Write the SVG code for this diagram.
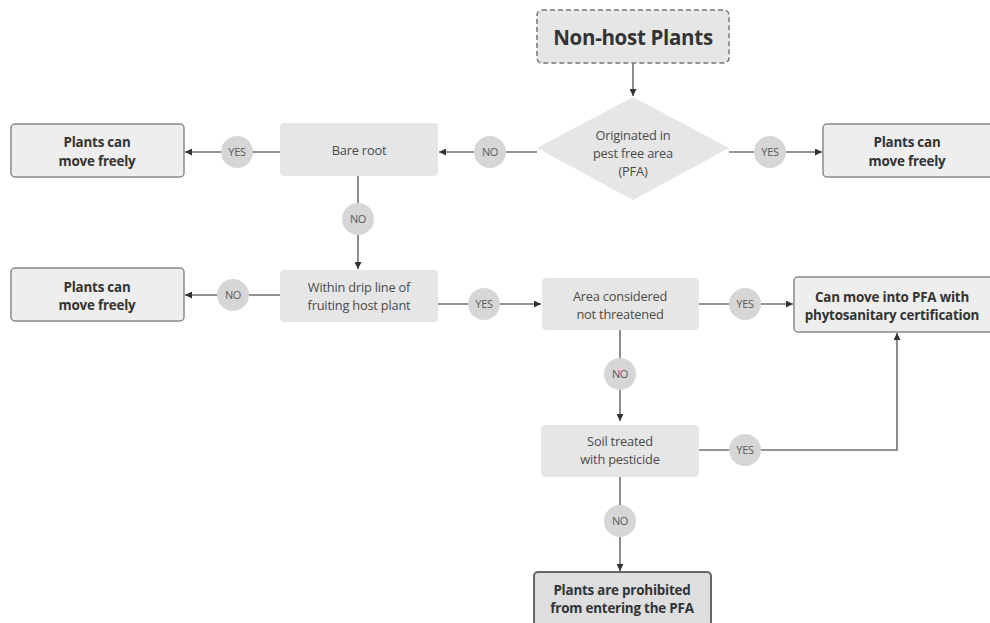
<svg xmlns="http://www.w3.org/2000/svg" width="990" height="623" viewBox="0 0 990 623">
<style>
text{font-family:"Open Sans","Liberation Sans",sans-serif;text-anchor:middle}
.q{fill:#e6e6e6}
.qt{font-size:12.8px;fill:#4a4a4a;letter-spacing:-0.2px}
.r{fill:#eeeeee;stroke:#8a8a8a;stroke-width:1.5}
.rt{font-size:13.4px;font-weight:bold;fill:#333;letter-spacing:-0.2px}
.ln{fill:none;stroke:#707070;stroke-width:1.6}
.lb circle{fill:#d6d6d6}
.lb text{font-size:11px;fill:#5a5a5a;letter-spacing:-0.3px}
</style>
<defs>
<marker id="ah" viewBox="0 0 10 10" refX="10" refY="5" markerWidth="7" markerHeight="7" markerUnits="userSpaceOnUse" orient="auto">
<path d="M0,0 L10,5 L0,10 z" fill="#333"/>
</marker>
</defs>
<g id="connectors">
<path class="ln" d="M633,63 V96" marker-end="url(#ah)"/>
<path class="ln" d="M537,152 H439" marker-end="url(#ah)"/>
<path class="ln" d="M729,152 H822" marker-end="url(#ah)"/>
<path class="ln" d="M280,152 H185" marker-end="url(#ah)"/>
<path class="ln" d="M358,176 V269" marker-end="url(#ah)"/>
<path class="ln" d="M280,295 H185" marker-end="url(#ah)"/>
<path class="ln" d="M438,304 H541" marker-end="url(#ah)"/>
<path class="ln" d="M699,304 H793" marker-end="url(#ah)"/>
<path class="ln" d="M620,330 V421" marker-end="url(#ah)"/>
<path class="ln" d="M699,450 H897 V333" marker-end="url(#ah)"/>
<path class="ln" d="M620,477 V571" marker-end="url(#ah)"/>
<g class="lb">
<circle cx="490" cy="152" r="16"/><text x="490" y="156">NO</text>
<circle cx="770" cy="152" r="16"/><text x="770" y="156">YES</text>
<circle cx="237" cy="152" r="16"/><text x="237" y="156">YES</text>
<circle cx="358" cy="219" r="16"/><text x="358" y="223">NO</text>
<circle cx="233" cy="295" r="16"/><text x="233" y="299">NO</text>
<circle cx="484" cy="304" r="16"/><text x="484" y="308">YES</text>
<circle cx="745" cy="304" r="16"/><text x="745" y="308">YES</text>
<circle cx="620" cy="374" r="16"/><text x="620" y="378">NO</text>
<circle cx="745" cy="450" r="16"/><text x="745" y="454">YES</text>
<circle cx="620" cy="521" r="16"/><text x="620" y="525">NO</text>
</g>
</g>
<g id="start">
<rect x="537" y="10" width="192" height="53" rx="5" fill="#e6e6e6" stroke="#777" stroke-width="1.5" stroke-dasharray="5,3"/>
<text x="633" y="44.5" style="font-size:20.5px;font-weight:bold;fill:#333;letter-spacing:-0.3px">Non-host Plants</text>
</g>
<g id="pfa">
<polygon class="q" points="633,97 729,148 633,200 537,148"/>
<text class="qt" x="633" y="139.5">Originated in</text>
<text class="qt" x="633" y="157.5">pest free area</text>
<text class="qt" x="633" y="176">(PFA)</text>
</g>
<g id="bare">
<rect class="q" x="280" y="123" width="158" height="53" rx="4"/>
<text class="qt" x="359" y="154.5">Bare root</text>
</g>
<g id="free1">
<rect class="r" x="11" y="124" width="173" height="53" rx="4"/>
<text class="rt" x="97" y="147">Plants can</text>
<text class="rt" x="97" y="166">move freely</text>
</g>
<g id="free2">
<rect class="r" x="823" y="124" width="175" height="53" rx="4"/>
<text class="rt" x="907" y="147">Plants can</text>
<text class="rt" x="907" y="166">move freely</text>
</g>
<g id="drip">
<rect class="q" x="280" y="270" width="158" height="52" rx="4"/>
<text class="qt" x="359" y="291.5">Within drip line of</text>
<text class="qt" x="359" y="309.5">fruiting host plant</text>
</g>
<g id="free3">
<rect class="r" x="11" y="268" width="173" height="53" rx="4"/>
<text class="rt" x="97" y="291.5">Plants can</text>
<text class="rt" x="97" y="310">move freely</text>
</g>
<g id="area">
<rect class="q" x="542" y="278" width="157" height="52" rx="4"/>
<text class="qt" x="620" y="300.5">Area considered</text>
<text class="qt" x="620" y="318.5">not threatened</text>
</g>
<g id="cert">
<rect class="r" x="794" y="277" width="200" height="55" rx="4"/>
<text class="rt" x="892" y="302">Can move into PFA with</text>
<text class="rt" x="892" y="319.5">phytosanitary certification</text>
</g>
<g id="soil">
<rect class="q" x="541" y="425" width="158" height="52" rx="4"/>
<text class="qt" x="620" y="446">Soil treated</text>
<text class="qt" x="620" y="464">with pesticide</text>
</g>
<g id="prohibited">
<rect x="534" y="572" width="177" height="54" rx="4" fill="#dedede" stroke="#666" stroke-width="2"/>
<text class="rt" x="622" y="595">Plants are prohibited</text>
<text class="rt" x="622" y="613">from entering the PFA</text>
</g>
</svg>
